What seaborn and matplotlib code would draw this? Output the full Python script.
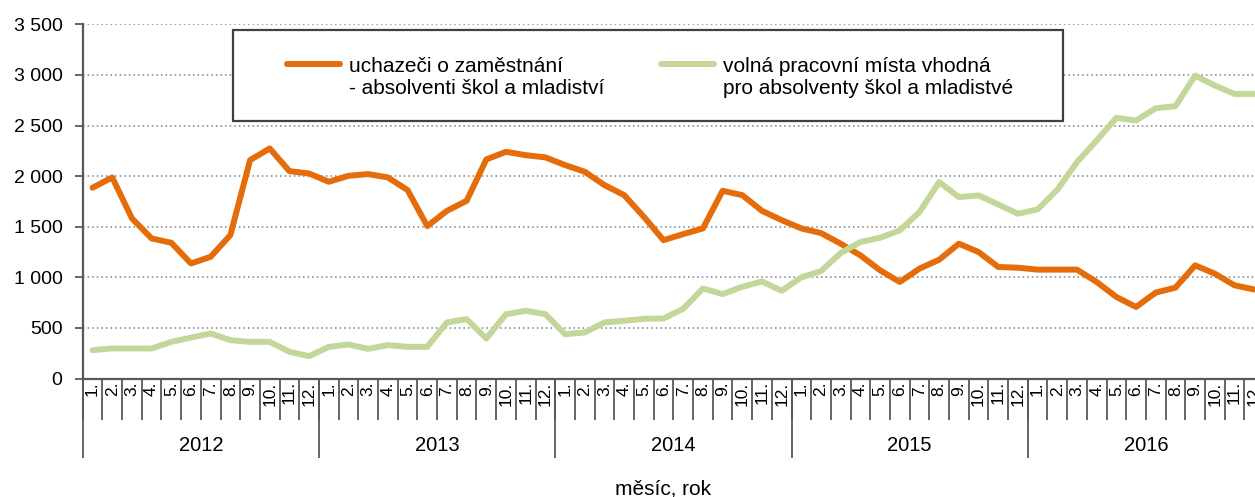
import numpy as np
import pandas as pd
import matplotlib
matplotlib.use('Agg')
import matplotlib.pyplot as plt
from matplotlib.lines import Line2D
from matplotlib.patches import Rectangle
import seaborn as sns

# ---- data ----
years = ['2012', '2013', '2014', '2015', '2016']
months = ['1.', '2.', '3.', '4.', '5.', '6.', '7.', '8.', '9.', '10.', '11.', '12.']

uchazeci = [1885, 1987, 1582, 1384, 1341, 1137, 1203, 1417, 2158, 2273, 2049, 2026,
            1944, 2003, 2020, 1987, 1862, 1506, 1657, 1756, 2165, 2240, 2207, 2185,
            2109, 2043, 1911, 1812, 1598, 1367, 1427, 1483, 1855, 1812, 1657, 1565,
            1483, 1437, 1332, 1217, 1069, 954, 1086, 1174, 1332, 1250, 1102, 1095,
            1076, 1076, 1076, 954, 806, 707, 849, 898, 1118, 1036, 921, 880]

mista = [280, 297, 297, 297, 362, 405, 445, 379, 362, 362, 264, 221,
         313, 336, 293, 330, 313, 313, 554, 587, 395, 636, 669, 636,
         438, 455, 554, 570, 590, 593, 689, 890, 834, 906, 959, 867,
         1000, 1062, 1240, 1349, 1391, 1464, 1645, 1941, 1793, 1809, 1720, 1628,
         1671, 1865, 2138, 2352, 2576, 2549, 2671, 2691, 2993, 2895, 2812, 2812]

label_u = 'uchazeči o zaměstnání\n- absolventi škol a mladiství'
label_m = 'volná pracovní místa vhodná\npro absolventy škol a mladistvé'
colors = {label_u: '#E46C0A', label_m: '#C4D79B'}

n = len(uchazeci)
df = pd.DataFrame({
    'idx': list(range(n)) * 2,
    'value': uchazeci + mista,
    'series': [label_u] * n + [label_m] * n,
})

# ---- style ----
sns.set_style('white')
plt.rcParams['font.family'] = ['Liberation Sans', 'DejaVu Sans']
TXT = '#000000'
AXC = '#595959'

W, H = 1255, 497
fig = plt.figure(figsize=(W / 100, H / 100), dpi=100)
ax = fig.add_axes([0.0659, 0.2384, 0.9413, 0.7127])

sns.lineplot(data=df, x='idx', y='value', hue='series', palette=colors,
             linewidth=4.3, legend=False, ax=ax,
             solid_joinstyle='round', solid_capstyle='round', clip_on=False)

ax.set_xlim(-0.5, n - 0.5)
ax.set_ylim(0, 3500)
ax.set_yticks(np.arange(0, 3501, 500))
ax.set_yticklabels([f'{v:,}'.replace(',', ' ') for v in range(0, 3501, 500)])
ax.yaxis.grid(True, color='#808080', linestyle=(0, (1, 2)), linewidth=1.1)
ax.xaxis.grid(False)
ax.set_xlabel('')
ax.set_ylabel('')

for s in ['top', 'right']:
    ax.spines[s].set_visible(False)
for s in ['left', 'bottom']:
    ax.spines[s].set_color(AXC)
    ax.spines[s].set_linewidth(1.6)

# seaborn's white style switches ticks off, turn them back on
ax.tick_params(which='both', bottom=True, left=True)
ax.tick_params(axis='y', length=5.5, width=1.3, color=AXC, pad=9,
               labelsize=14, labelcolor=TXT)

# month labels at centres, separators as minor ticks
ax.set_xticks(range(n))
ax.set_xticklabels(months * len(years), rotation=90)
ax.tick_params(axis='x', which='major', length=0, pad=2, labelsize=12.5, labelcolor=TXT)
ax.set_xticks(np.arange(-0.5, n, 1), minor=True)
ax.tick_params(axis='x', which='minor', length=29.5, width=1.3, color=AXC)

# year separators and labels
trans = ax.get_xaxis_transform()
ax.vlines(np.arange(-0.5, n, 12), -0.2245, 0, transform=trans,
          colors=AXC, linewidth=1.3, clip_on=False)
for k, yr in enumerate(years):
    ax.text(5.5 + 12 * k, -0.19, yr, transform=trans, ha='center', va='center',
            fontsize=14.5, color=TXT)

fig.text(663 / W, 0.005, 'měsíc, rok', ha='center', va='baseline', fontsize=15, color=TXT)

# legend box drawn by hand so the line samples sit on the first text line
fig.patches.append(Rectangle((233 / W, 1 - 121 / H), 830 / W, 91 / H,
                             transform=fig.transFigure, facecolor='white',
                             edgecolor='#404040', linewidth=1.6, zorder=3))
leg_items = [(label_u, 287, 349), (label_m, 661, 723)]
for lab, hx, tx in leg_items:
    fig.lines.append(Line2D([hx / W, (hx + 53) / W], [1 - 64 / H, 1 - 64 / H],
                            transform=fig.transFigure, color=colors[lab],
                            linewidth=4.3, solid_capstyle='round', zorder=4))
    fig.text(tx / W, 1 - 56.5 / H, lab, ha='left', va='top', multialignment='left',
             fontsize=15, linespacing=1.2, color=TXT, zorder=5)

fig.savefig('out.png', dpi=100)
